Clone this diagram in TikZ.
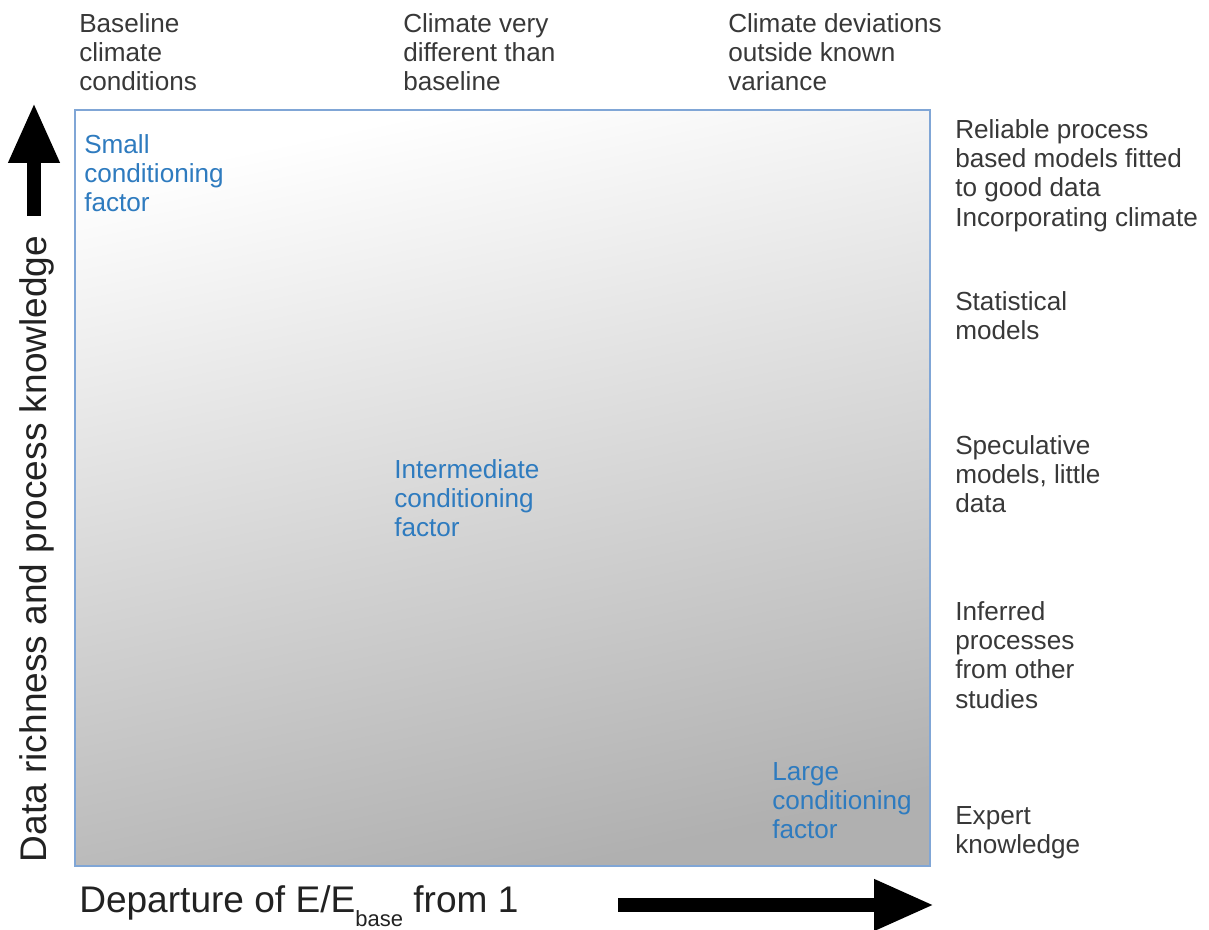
\documentclass[tikz,border=0pt]{standalone}
\usepackage{fontspec}
\setmainfont{Liberation Sans}
\usepackage{xcolor}
\usepackage{tikz}
\usetikzlibrary{arrows.meta,positioning}

\definecolor{txtgray}{HTML}{383838}
\definecolor{condblue}{HTML}{2E7BBF}
\definecolor{boxblue}{HTML}{80A6D6}
\definecolor{midgray}{HTML}{E6E6E6}
\definecolor{shadegray}{HTML}{B0B0B0}

\begin{document}
\begin{tikzpicture}[
    x=0.75pt, y=-0.75pt,
    lbl/.style={anchor=north west, inner sep=0pt, align=left, text=txtgray,
        font=\fontsize{19.6}{22}\selectfont},
    cond/.style={lbl, text=condblue},
    axis/.style={inner sep=0pt, text=txtgray!60!black, font=\fontsize{27.8}{30}\selectfont},
    bigarrow/.style={line width=10.1pt, -{Triangle[width=36pt,length=45pt]}}
]
    \useasboundingbox (0,0) rectangle (1209,930);

    % Box
    \shade[top color=white, middle color=midgray, bottom color=shadegray, shading angle=12]
        (75,110) rectangle (930,866);
    \draw[boxblue, line width=1.2pt] (75,110) rectangle (930,866);

    % Column headings
    \node[lbl] (base) at (79,13) {Baseline\\climate\\conditions};
    \node[lbl] (diff) at (403,13) {Climate very\\different than\\baseline};
    \node[lbl] (dev)  at (728,13) {Climate deviations\\outside known\\variance};

    % Row headings
    \node[lbl] (reliable) at (955,119) {Reliable process\\based models fitted\\to good data\\Incorporating climate};
    \node[lbl] (stat)     at (955,291) {Statistical\\models};
    \node[lbl] (spec)     at (955,435) {Speculative\\models, little\\data};
    \node[lbl] (infer)    at (955,601) {Inferred\\processes\\from other\\studies};
    \node[lbl] (expert)   at (955,806) {Expert\\knowledge};

    % Conditioning factors
    \node[cond] (small) at (84,134)  {Small\\conditioning\\factor};
    \node[cond] (inter) at (394,459) {Intermediate\\conditioning\\factor};
    \node[cond] (large) at (772,762) {Large\\conditioning\\factor};

    % Axes
    \node[axis, rotate=90] (yaxis) at (37,549) {Data richness and process knowledge};
    \node[axis, anchor=base west] (xaxis) at (79,912)
        {Departure of E/E\raisebox{-11pt}{\fontsize{16.5}{16}\selectfont base} from 1};

    \coordinate (ytail) at (34,216);
    \coordinate (ytip)  at (34,103);
    \coordinate (xtail) at (618,905);
    \coordinate (xtip)  at (934,905);
    \draw[bigarrow] (ytail) -- (ytip);
    \draw[bigarrow] (xtail) -- (xtip);
\end{tikzpicture}
\end{document}
